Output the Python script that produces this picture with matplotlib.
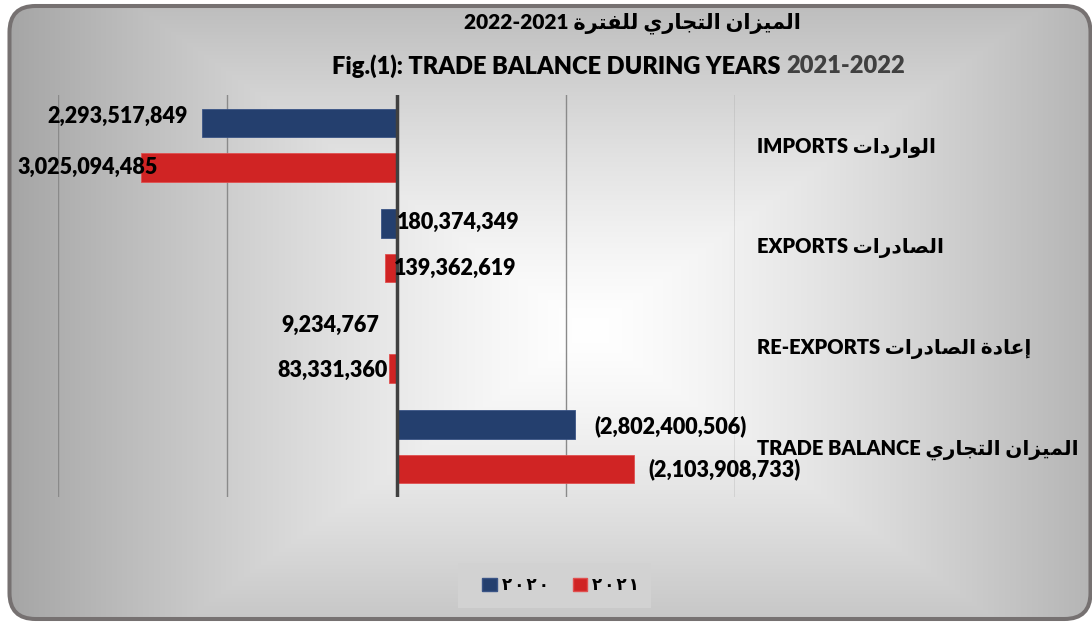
import numpy as np
import matplotlib
matplotlib.use("Agg")
import matplotlib.pyplot as plt
from matplotlib.patches import FancyBboxPatch, Rectangle, Patch

# Data (negative = outflow, drawn to the left)
categories_en = ["IMPORTS", "EXPORTS", "RE-EXPORTS", "TRADE BALANCE"]
categories_ar = ["الواردات", "الصادرات", "إعادة الصادرات", "الميزان التجاري"]
vals_2020 = [-2293517849, -180374349, -9234767, 2103908733]
vals_2021 = [-3025094485, -139362619, -83331360, 2802400506]
# labels as printed on the original chart (trade balance ones are swapped there)
labels_2020 = ["2,293,517,849", "180,374,349", "9,234,767", "(2,802,400,506)"]
labels_2021 = ["3,025,094,485", "139,362,619", "83,331,360", "(2,103,908,733)"]
legend_names = ["٢٠٢٠", "٢٠٢١"]

BLUE = "#243f6e"
RED = "#d02424"
FONT = ["Lato", "DejaVu Sans"]

# --- tiny arabic shaper (matplotlib does no shaping / bidi) ---
forms = {  # isolated, final, initial, medial
    "ا": (0xFE8D, 0xFE8E), "إ": (0xFE87, 0xFE88), "ة": (0xFE93, 0xFE94),
    "د": (0xFEA9, 0xFEAA), "ر": (0xFEAD, 0xFEAE), "ز": (0xFEAF, 0xFEB0),
    "و": (0xFEED, 0xFEEE),
    "ت": (0xFE95, 0xFE96, 0xFE97, 0xFE98), "ج": (0xFE9D, 0xFE9E, 0xFE9F, 0xFEA0),
    "ص": (0xFEB9, 0xFEBA, 0xFEBB, 0xFEBC), "ع": (0xFEC9, 0xFECA, 0xFECB, 0xFECC),
    "ف": (0xFED1, 0xFED2, 0xFED3, 0xFED4), "ل": (0xFEDD, 0xFEDE, 0xFEDF, 0xFEE0),
    "م": (0xFEE1, 0xFEE2, 0xFEE3, 0xFEE4), "ن": (0xFEE5, 0xFEE6, 0xFEE7, 0xFEE8),
    "ي": (0xFEF1, 0xFEF2, 0xFEF3, 0xFEF4),
}


def ar(s):
    out = []
    for i, c in enumerate(s):
        if c not in forms:
            out.append(c)
            continue
        f = forms[c]
        prev = s[i - 1] if i > 0 else " "
        nxt = s[i + 1] if i + 1 < len(s) else " "
        jp = prev in forms and len(forms[prev]) == 4
        jn = len(f) == 4 and nxt in forms
        if jp and jn:
            k = 3
        elif jp:
            k = 1
        elif jn:
            k = 2
        else:
            k = 0
        out.append(chr(f[k]))
    return "".join(out[::-1])


W, H = 1092, 622
fig = plt.figure(figsize=(W / 100, H / 100), dpi=100)
fig.patch.set_facecolor("white")

# background: rounded frame with gradient from centre
bg = fig.add_axes([0, 0, 1, 1], zorder=0)
bg.set_xlim(0, W)
bg.set_ylim(H, 0)
bg.axis("off")
xx, yy = np.meshgrid(np.arange(W), np.arange(H))
r = np.maximum(np.abs(xx - 590) / 590.0, np.abs(yy - 330) / 420.0)
r = np.clip(r, 0, 1)
v = 1.0 - 0.36 * r ** 1.3
img = np.dstack([v, v, v])
frame = FancyBboxPatch((9.5, 6), 1081, 613, boxstyle="round,pad=0,rounding_size=26",
                       fc="none", ec="#767171", lw=2.9, transform=bg.transData, zorder=3)
im = bg.imshow(img, extent=(0, W, H, 0), aspect="auto", zorder=1)
im.set_clip_path(frame)
bg.add_patch(frame)
bg.add_patch(Rectangle((458, 563), 193, 45, fc="#d2d2d2", ec="none", zorder=2))

# main chart
ax = fig.add_axes([58 / W, 1 - 497 / H, (735 - 58) / W, (497 - 95) / H], zorder=2)
ax.set_facecolor("none")
y = np.arange(len(categories_en))
h = 0.285
off = 0.222
b20 = ax.barh(y - off, vals_2020, height=h, color=BLUE, edgecolor="#3a5486", lw=0.6, zorder=3)
b21 = ax.barh(y + off, vals_2021, height=h, color=RED, edgecolor="#e05050", lw=0.6, zorder=3)

ax.set_xlim(-4e9, 4e9)
ax.set_ylim(3.5, -0.5)
ax.set_xticks([-4e9, -2e9, 0, 2e9, 4e9])
ax.grid(axis="x", color="#8a8a8a", lw=1)
ax.axvline(0, color="#404040", lw=2.5, zorder=4)
for s in ax.spines.values():
    s.set_visible(False)
ax.tick_params(axis="x", length=0, labelbottom=False)
ax.yaxis.tick_right()
ax.set_yticks(y)
ax.set_yticklabels([e + " " + ar(a) for e, a in zip(categories_en, categories_ar)],
                   fontfamily=FONT, fontweight="heavy", fontsize=14.5)
ax.tick_params(axis="y", length=0, pad=16)

# value labels: (anchor on bar end or zero, dx px, dy px, ha)
place_2020 = [("end", -15, 7, "right"), ("zero", 0, 1, "left"),
              ("end", -16, -1, "right"), ("end", 20, -2, "left")]
place_2021 = [("end", 17, 0, "right"), ("zero", -3, 0, "left"),
              ("end", -2, -2, "right"), ("end", 15, 0, "left")]
for vals, labs, places, yy_ in [(vals_2020, labels_2020, place_2020, y - off),
                                (vals_2021, labels_2021, place_2021, y + off)]:
    for val, lab, (anc, dx, dy, ha), yc in zip(vals, labs, places, yy_):
        xv = val if anc == "end" else 0
        ax.annotate(lab, (xv, yc), xytext=(dx, dy), textcoords="offset pixels",
                    ha=ha, va="center", fontfamily=FONT, fontweight="heavy",
                    fontsize=15.5, color="black", zorder=5, annotation_clip=False)

# titles
fig.text(632 / W, 1 - 23 / H, "2022-2021 " + ar("الميزان التجاري للفترة"),
         ha="center", va="center", fontfamily=FONT, fontweight="heavy", fontsize=15)
t1 = fig.text(332 / W, 1 - 66 / H, "Fig.(1): TRADE BALANCE DURING YEARS ",
              ha="left", va="center", fontfamily=FONT, fontweight="heavy", fontsize=17)
ax.annotate("2021-2022", xy=(1, 0.5), xycoords=t1, ha="left", va="center",
            fontfamily=FONT, fontweight="heavy", fontsize=17, color="#404040")

# legend (arabic-indic digits, spaced out like the original)
handles = [Patch(fc=BLUE, ec="#3a5486"), Patch(fc=RED, ec="#e05050")]
leg = fig.legend(handles, ["\u2009".join(n) for n in legend_names], loc="center", ncol=2,
                 bbox_to_anchor=(560.5 / W, 1 - 585.5 / H), frameon=False,
                 handlelength=0.85, handleheight=0.85, handletextpad=0.3,
                 columnspacing=1.45, prop={"family": FONT, "weight": "bold", "size": 12})

fig.savefig("out.png", dpi=100)
